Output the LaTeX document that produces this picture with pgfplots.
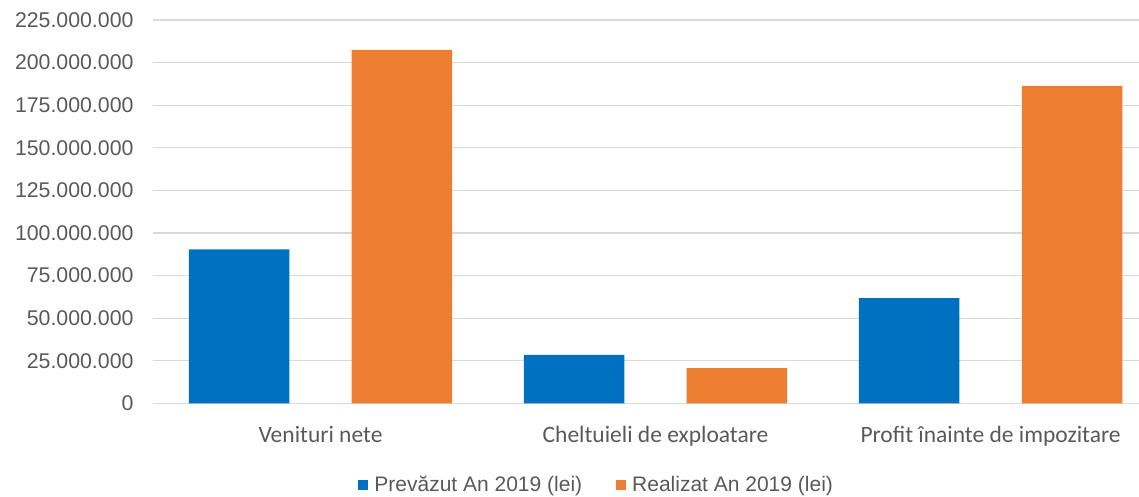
\documentclass[border=0pt]{standalone}
\usepackage{fontspec}
\setmainfont{Liberation Sans}
\newfontfamily\carlito{Carlito}
\usepackage{pgfplots}
\pgfplotsset{compat=1.18}
\definecolor{cblue}{HTML}{0070C0}
\definecolor{corange}{HTML}{ED7D31}
\definecolor{grid}{HTML}{D9D9D9}
\definecolor{txt}{HTML}{595959}
\begin{document}
\begin{tikzpicture}[x=1pt,y=1pt]
\useasboundingbox (0,0) rectangle (1139,496);
\begin{axis}[
  at={(153pt,92.7pt)}, anchor=south west,
  scale only axis,
  width=986pt, height=383.3pt,
  xmin=-0.5, xmax=2.443,
  ymin=0, ymax=225000000,
  ytick={0,25000000,...,225000000},
  scaled y ticks=false,
  yticklabel style={font=\fontsize{21.3}{25}\selectfont, text=txt, xshift=-16pt,
    /pgf/number format/.cd, fixed, 1000 sep={.}, assume math mode=true},
  xtick={0,1,2},
  xticklabels={Venituri nete, Cheltuieli de exploatare, Profit înainte de impozitare},
  xticklabel style={font=\carlito\fontsize{23.5}{28}\selectfont, text=txt, yshift=-19pt},
  major tick length=0pt,
  axis x line*=bottom,
  axis y line*=left,
  y axis line style={draw=none},
  x axis line style={draw=grid, line width=1.2pt, -},
  ymajorgrids,
  grid style={draw=grid, line width=1.2pt},
  ybar,
  bar width=0.3,
  clip=false,
  legend columns=2,
  legend style={at={(0.450,-0.213)}, anchor=center, draw=none, fill=none,
    font=\fontsize{21}{25}\selectfont, text=txt,
    /tikz/every odd column/.append style={column sep=4pt},
    /tikz/every even column/.append style={column sep=32pt}},
  legend image code/.code={\fill[#1] (-7pt,-5pt) rectangle (3pt,5pt);},
]
\addplot[fill=cblue, draw=none, bar shift=-0.243] coordinates {(0,90400000) (1,28400000) (2,61800000)};
\addplot[fill=corange, draw=none, bar shift=0.243] coordinates {(0,207400000) (1,20700000) (2,186400000)};
\legend{Prevăzut An 2019 (lei), Realizat An 2019 (lei)}
\end{axis}
\end{tikzpicture}
\end{document}
